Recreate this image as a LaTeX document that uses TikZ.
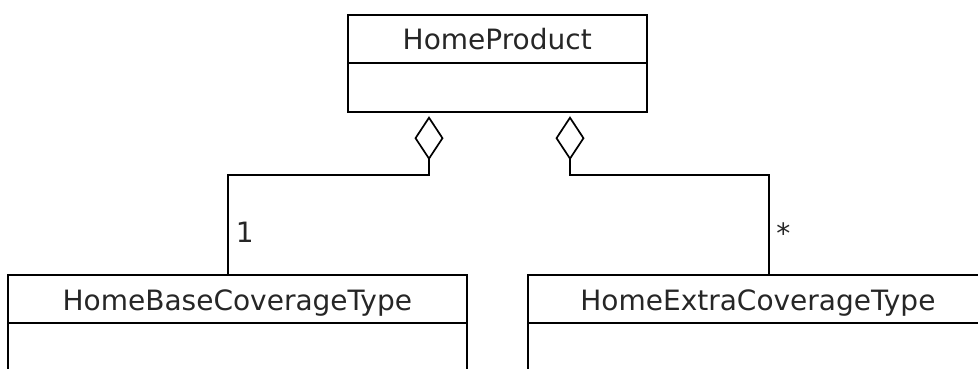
\documentclass[tikz,border=0pt]{standalone}
\usepackage{fontspec}
\setmainfont{DejaVu Sans}
\usetikzlibrary{arrows.meta}
\begin{document}
\begin{tikzpicture}[x=1pt,y=-1pt,
  line width=1.7pt,
  umlfont/.style={font=\fontsize{28}{34}\selectfont, text=black!85},
  namebox/.style={draw, inner sep=0pt, text height=22pt, text depth=0pt, umlfont},
  bodybox/.style={draw, inner sep=0pt},
  agg/.style={-{Diamond[open,length=44pt,width=29pt]}, shorten >=3pt},
  mult/.style={umlfont, inner sep=0pt, anchor=base}
]
\useasboundingbox (0,0) rectangle (978,368);
\clip (0,0) rectangle (978,368);

% top class
\node[namebox, minimum width=299pt, minimum height=47.7pt] (hpname) at (497.2,38.85) {HomeProduct};
\node[bodybox, minimum width=299pt, minimum height=49.6pt] (hpbody) at (497.2,87.5) {};

% lower left class
\node[namebox, minimum width=458.7pt, minimum height=48.3pt] (basename) at (237.35,299.15) {HomeBaseCoverageType};
\node[bodybox, minimum width=458.7pt, minimum height=60pt] (basebody) at (237.35,353.3) {};

% lower right class
\node[namebox, minimum width=459.2pt, minimum height=48.3pt] (extraname) at (757.9,299.15) {HomeExtraCoverageType};
\node[bodybox, minimum width=459.2pt, minimum height=60pt] (extrabody) at (757.9,353.3) {};

% bends
\coordinate (k1) at (228.3,175);
\coordinate (k2) at (429,175);
\coordinate (k3) at (570,175);
\coordinate (k4) at (769.3,175);

% aggregations
\draw[agg] (basename.north -| k1) -- (k1) -- (k2) -- (hpbody.south -| k2);
\draw[agg] (extraname.north -| k4) -- (k4) -- (k3) -- (hpbody.south -| k3);

% multiplicities
\node[mult] (m1) at (244.7,242.7) {1};
\node[mult] (m2) at (783.3,243.5) {*};
\end{tikzpicture}
\end{document}
